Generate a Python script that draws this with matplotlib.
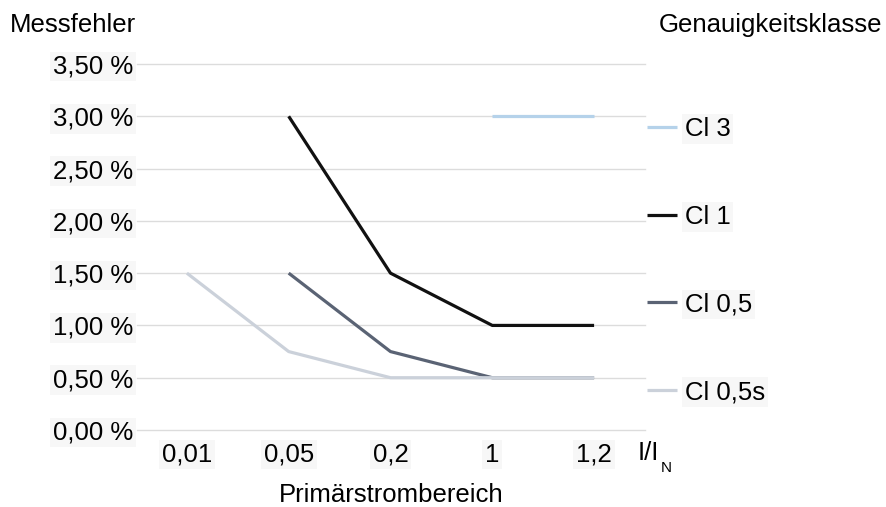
import numpy as np
import matplotlib
matplotlib.use("Agg")
import matplotlib.pyplot as plt
from matplotlib.ticker import FuncFormatter

plt.rcParams['font.family'] = ['Liberation Sans', 'DejaVu Sans']

# categories (I/I_N) and error limits in %
categories = ["0,01", "0,05", "0,2", "1", "1,2"]
cl3 = [np.nan, np.nan, np.nan, 3.0, 3.0]
cl1 = [np.nan, 3.0, 1.5, 1.0, 1.0]
cl05 = [np.nan, 1.5, 0.75, 0.5, 0.5]
cl05s = [1.5, 0.75, 0.5, 0.5, 0.5]
labels = ["Cl 3", "Cl 1", "Cl 0,5", "Cl 0,5s"]
colors = ["#b5d2ea", "#111111", "#5a6374", "#cbd1da"]
yticks = [0, 0.5, 1.0, 1.5, 2.0, 2.5, 3.0, 3.5]

fs = 18.5
fig = plt.figure(figsize=(8.87, 5.07), dpi=100)
ax = fig.add_axes([137/887, 77/507, 508/887, 366/507])

x = np.arange(len(categories))
for series, lab, col in zip([cl3, cl1, cl05, cl05s], labels, colors):
    ax.plot(x, series, color=col, lw=2.3, label=lab, solid_capstyle='butt')

ax.set_xlim(-0.49, 4.5)
ax.set_ylim(0, 3.5)
ax.set_yticks(yticks)
ax.set_xticks(x)
ax.set_xticklabels(categories)
ax.yaxis.set_major_formatter(FuncFormatter(lambda v, p: ("%.2f %%" % v).replace(".", ",")))
ax.grid(axis='y', color='#dcdcdc', lw=1)
ax.set_axisbelow(True)
for s in ax.spines.values():
    s.set_visible(False)
ax.tick_params(axis='both', length=0, labelsize=fs)
ax.tick_params(axis='y', pad=3)
ax.tick_params(axis='x', pad=9)

ax.set_xlabel("Primärstrombereich", fontsize=fs, labelpad=12)
ax.text(0.986, -0.063, "I/I", transform=ax.transAxes,
        fontsize=fs, ha='left', va='center')
ax.text(1.031, -0.103, "N", transform=ax.transAxes,
        fontsize=11, ha='left', va='center')

fig.text(10/887, 1 - 25/507, "Messfehler", fontsize=fs, ha='left', va='center')
fig.text(882/887, 1 - 25/507, "Genauigkeitsklasse", fontsize=fs, ha='right', va='center')

leg = ax.legend(loc='upper left', bbox_to_anchor=(647/887, 1 - 117/507),
                bbox_transform=fig.transFigure, frameon=False, fontsize=fs,
                handlelength=1.17, handletextpad=0.3, labelspacing=2.48,
                borderpad=0, borderaxespad=0)
for t in leg.get_texts():
    t.set_bbox(dict(facecolor='#f7f7f7', edgecolor='none', pad=2))

fig.canvas.draw()
for lab in ax.get_yticklabels() + ax.get_xticklabels():
    lab.set_bbox(dict(facecolor='#f7f7f7', edgecolor='none', pad=2))
for gl in ax.get_ygridlines():
    gl.set_clip_on(False)

fig.savefig("out.png", dpi=100)
